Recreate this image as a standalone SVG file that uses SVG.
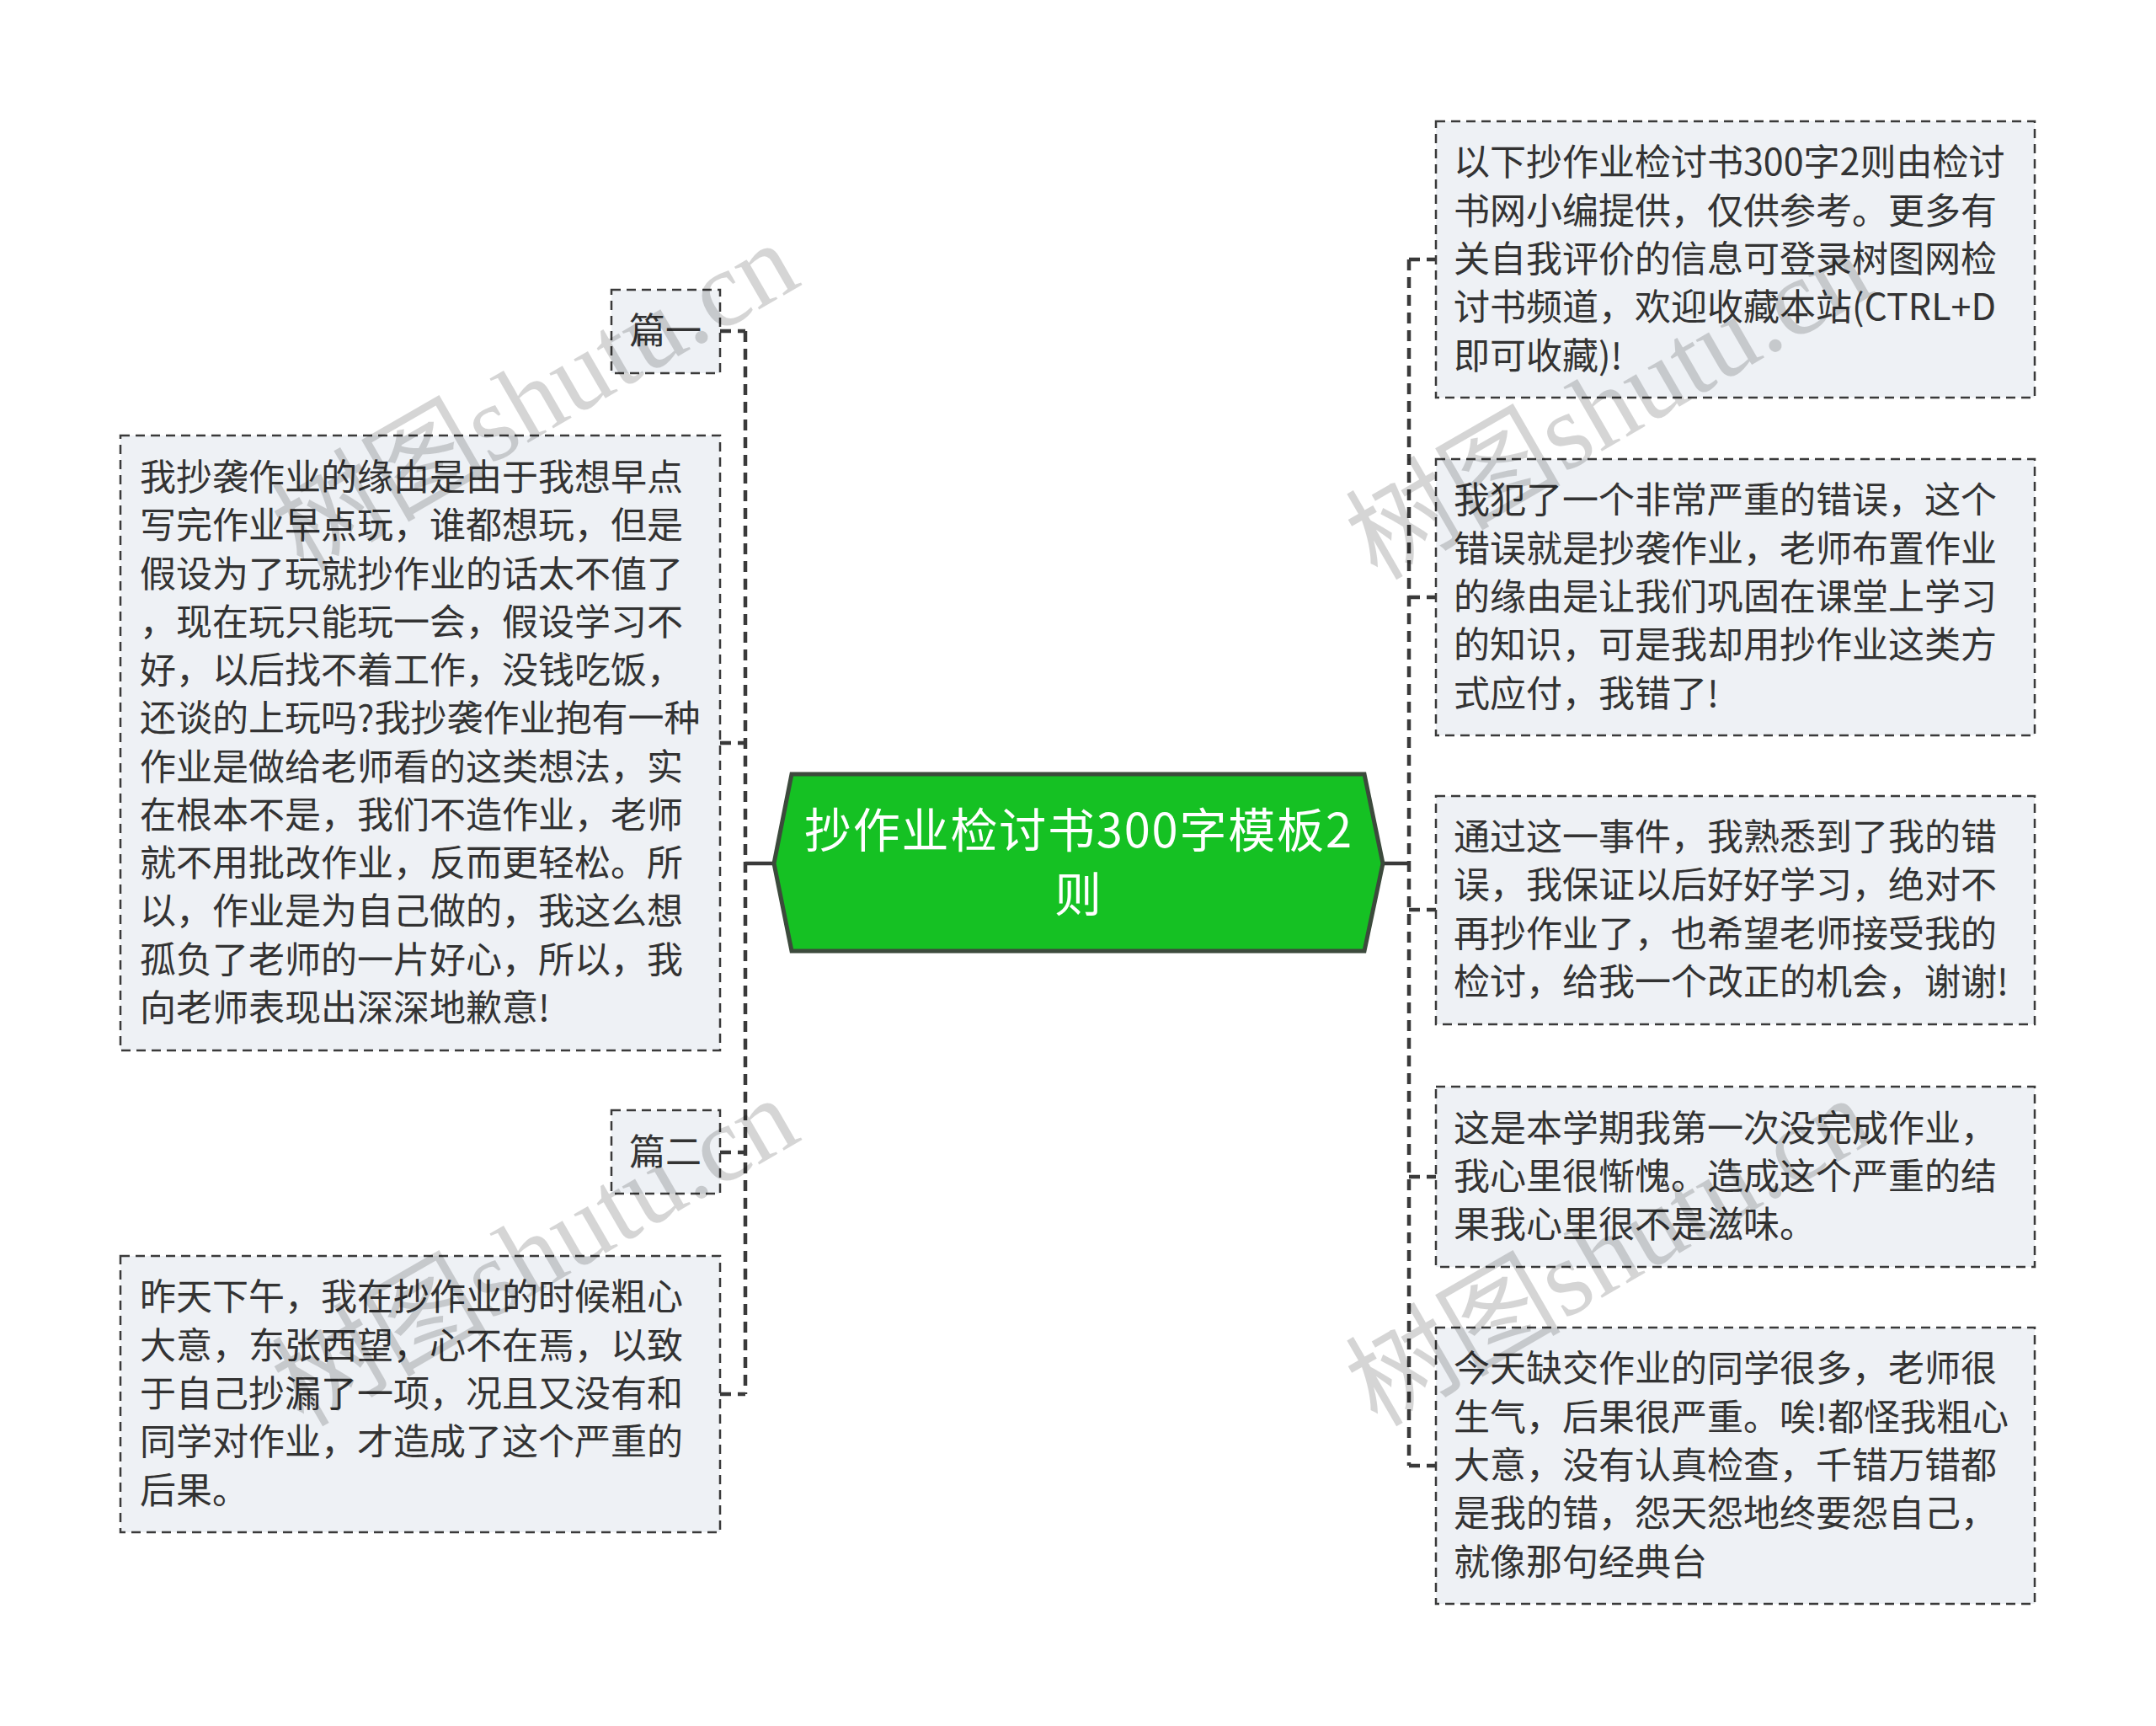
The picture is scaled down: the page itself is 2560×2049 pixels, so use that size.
<svg xmlns="http://www.w3.org/2000/svg" width="2560" height="2049" viewBox="0 0 2560 2049">
<style>
.box{fill:#eef1f5;stroke:#3a3a3a;stroke-width:2.5;stroke-dasharray:11 7}
.t{font-family:"Noto Sans CJK SC","Noto Sans",sans-serif;font-size:43px;fill:#333}
.tc{text-anchor:middle}
.spine{fill:none;stroke:#3a3a3a;stroke-width:4.5;stroke-dasharray:13 8}
.stub{fill:none;stroke:#3a3a3a;stroke-width:4.5;stroke-dasharray:13 8}
.solid{fill:none;stroke:#3a3a3a;stroke-width:4.5}
.wm{font-family:"Liberation Serif","Noto Sans CJK SC",serif;font-size:128px;fill:#000;opacity:0.16}
</style>
<rect width="2560" height="2049" fill="#fff"/>
<g id="connectors">
<path class="spine" d="M885 393 V1655"/>
<path class="stub" d="M855 393 H885 M855 882 H885 M855 1368 H885 M855 1655 H885"/>
<path class="solid" d="M885 1025 H919"/>
<path class="spine" d="M1673 308 V1740"/>
<path class="stub" d="M1673 308 H1705 M1673 709 H1705 M1673 1080 H1705 M1673 1397 H1705 M1673 1740 H1705"/>
<path class="solid" d="M1642 1025 H1673"/>
</g>
<g id="root">
<polygon points="919,1025 940,919 1620,919 1642,1025 1620,1129 940,1129" fill="#15c123" stroke="#3c4a3c" stroke-width="5"/>
<text class="tc" font-family="Noto Sans CJK SC,sans-serif" font-size="56" fill="#fff" x="1280"><tspan x="1280" y="1006" textLength="650" lengthAdjust="spacing">抄作业检讨书300字模板2</tspan><tspan x="1280" y="1082">则</tspan></text>
</g>
<g id="pian1">
<rect class="box" x="726" y="344" width="129" height="99"/>
<text class="t tc" x="790" y="408">篇一</text>
</g>
<g id="left-text1">
<rect class="box" x="143" y="517" width="712" height="730"/>
<text class="t"><tspan x="166" y="582">我抄袭作业的缘由是由于我想早点</tspan><tspan x="166" y="639">写完作业早点玩，谁都想玩，但是</tspan><tspan x="166" y="697">假设为了玩就抄作业的话太不值了</tspan><tspan x="166" y="754">，现在玩只能玩一会，假设学习不</tspan><tspan x="166" y="811">好，以后找不着工作，没钱吃饭，</tspan><tspan x="166" y="868">还谈的上玩吗?我抄袭作业抱有一种</tspan><tspan x="166" y="926">作业是做给老师看的这类想法，实</tspan><tspan x="166" y="983">在根本不是，我们不造作业，老师</tspan><tspan x="166" y="1040">就不用批改作业，反而更轻松。所</tspan><tspan x="166" y="1097">以，作业是为自己做的，我这么想</tspan><tspan x="166" y="1155">孤负了老师的一片好心，所以，我</tspan><tspan x="166" y="1212">向老师表现出深深地歉意!</tspan></text>
</g>
<g id="pian2">
<rect class="box" x="726" y="1318" width="129" height="99"/>
<text class="t tc" x="790" y="1383">篇二</text>
</g>
<g id="left-text2">
<rect class="box" x="143" y="1491" width="712" height="328"/>
<text class="t"><tspan x="166" y="1555">昨天下午，我在抄作业的时候粗心</tspan><tspan x="166" y="1613">大意，东张西望，心不在焉，以致</tspan><tspan x="166" y="1670">于自己抄漏了一项，况且又没有和</tspan><tspan x="166" y="1727">同学对作业，才造成了这个严重的</tspan><tspan x="166" y="1785">后果。</tspan></text>
</g>
<g id="right1">
<rect class="box" x="1705" y="144" width="711" height="328"/>
<text class="t"><tspan x="1726" y="208">以下抄作业检讨书300字2则由检讨</tspan><tspan x="1726" y="266">书网小编提供，仅供参考。更多有</tspan><tspan x="1726" y="323">关自我评价的信息可登录树图网检</tspan><tspan x="1726" y="380">讨书频道，欢迎收藏本站(CTRL+D</tspan><tspan x="1726" y="438">即可收藏)!</tspan></text>
</g>
<g id="right2">
<rect class="box" x="1705" y="545" width="711" height="328"/>
<text class="t"><tspan x="1726" y="609">我犯了一个非常严重的错误，这个</tspan><tspan x="1726" y="667">错误就是抄袭作业，老师布置作业</tspan><tspan x="1726" y="724">的缘由是让我们巩固在课堂上学习</tspan><tspan x="1726" y="781">的知识，可是我却用抄作业这类方</tspan><tspan x="1726" y="839">式应付，我错了!</tspan></text>
</g>
<g id="right3">
<rect class="box" x="1705" y="945" width="711" height="271"/>
<text class="t"><tspan x="1726" y="1009">通过这一事件，我熟悉到了我的错</tspan><tspan x="1726" y="1066">误，我保证以后好好学习，绝对不</tspan><tspan x="1726" y="1124">再抄作业了，也希望老师接受我的</tspan><tspan x="1726" y="1181">检讨，给我一个改正的机会，谢谢!</tspan></text>
</g>
<g id="right4">
<rect class="box" x="1705" y="1290" width="711" height="214"/>
<text class="t"><tspan x="1726" y="1355">这是本学期我第一次没完成作业，</tspan><tspan x="1726" y="1412">我心里很惭愧。造成这个严重的结</tspan><tspan x="1726" y="1469">果我心里很不是滋味。</tspan></text>
</g>
<g id="right5">
<rect class="box" x="1705" y="1576" width="711" height="328"/>
<text class="t"><tspan x="1726" y="1640">今天缺交作业的同学很多，老师很</tspan><tspan x="1726" y="1698">生气，后果很严重。唉!都怪我粗心</tspan><tspan x="1726" y="1755">大意，没有认真检查，千错万错都</tspan><tspan x="1726" y="1812">是我的错，怨天怨地终要怨自己，</tspan><tspan x="1726" y="1870">就像那句经典台</tspan></text>
</g>
<g id="watermarks">
<text class="wm" transform="translate(360,680) rotate(-30)">树图shutu.cn</text>
<text class="wm" transform="translate(1635,690) rotate(-30)">树图shutu.cn</text>
<text class="wm" transform="translate(360,1695) rotate(-30)">树图shutu.cn</text>
<text class="wm" transform="translate(1635,1695) rotate(-30)">树图shutu.cn</text>
</g>
</svg>
